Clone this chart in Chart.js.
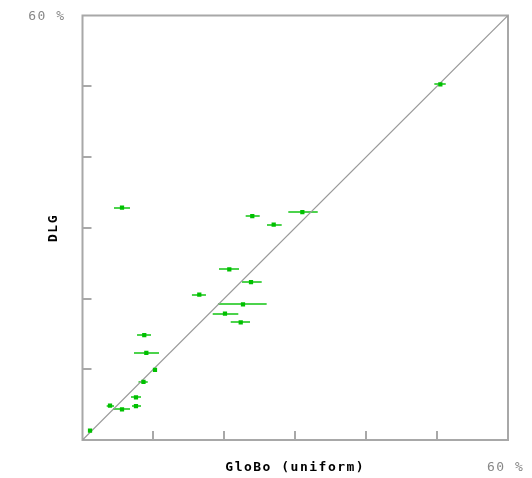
<!DOCTYPE html>
<html>
<head>
<meta charset="utf-8">
<script src="https://cdn.jsdelivr.net/npm/chart.js@4/dist/chart.umd.min.js"></script>
<style>
html,body{margin:0;padding:0;background:#fff;}
#wrap{width:532px;height:478px;position:relative;}
</style>
</head>
<body>
<div id="wrap"><canvas id="c" width="532" height="478"></canvas></div>
<script>
// Data (percent)
const xValues = [1.06, 3.88, 5.57, 7.54, 7.54, 8.6, 10.22, 9.0, 8.71, 16.47, 22.63, 20.09, 22.31, 23.76, 20.70, 23.94, 26.96, 31.0, 5.57, 50.46];
const yValues = [1.31, 4.85, 4.34, 6.03, 4.80, 8.2, 9.9, 12.3, 14.84, 20.54, 19.18, 17.85, 16.64, 22.33, 24.13, 31.66, 30.43, 32.22, 32.83, 50.27];
const xLow   = [0.9, 3.41, 4.30, 6.84, 6.98, 7.9, 10.0, 7.26, 7.69, 15.43, 19.10, 18.36, 20.90, 22.49, 19.25, 23.01, 26.02, 29.02, 4.44, 49.61];
const xHigh  = [1.2, 4.44, 6.70, 8.25, 8.25, 9.2, 10.4, 10.79, 9.66, 17.41, 25.97, 21.97, 23.62, 25.27, 22.07, 24.99, 28.09, 33.17, 6.70, 51.22];
const tickValues = [10, 20, 30, 40, 50];
const axisMin = 0, axisMax = 60;
const xTitle = 'GloBo (uniform)';
const yTitle = 'DLG';
const cornerLabel = '60 %';

const points = xValues.map((x, i) => ({x: x, y: yValues[i], lo: xLow[i], hi: xHigh[i]}));

const green = '#00c000';
const axisGray = '#a8a8a8';

const decor = {
  id: 'decor',
  beforeDatasetsDraw(chart) {
    const {ctx, chartArea: a, scales: {x, y}} = chart;
    ctx.save();
    // frame
    ctx.strokeStyle = axisGray;
    ctx.lineWidth = 2;
    ctx.strokeRect(a.left, a.top, a.right - a.left, a.bottom - a.top);
    // inside ticks
    ctx.lineWidth = 2;
    tickValues.forEach(v => {
      const px = Math.round(x.getPixelForValue(v)) ;
      ctx.beginPath(); ctx.moveTo(px, a.bottom); ctx.lineTo(px, a.bottom - 9); ctx.stroke();
      const py = Math.round(y.getPixelForValue(v));
      ctx.beginPath(); ctx.moveTo(a.left, py); ctx.lineTo(a.left + 9, py); ctx.stroke();
    });
    // error bars
    ctx.strokeStyle = green;
    ctx.globalAlpha = 0.7;
    ctx.lineWidth = 2;
    points.forEach(p => {
      const py = Math.round(y.getPixelForValue(p.y));
      ctx.beginPath();
      ctx.moveTo(x.getPixelForValue(p.lo), py);
      ctx.lineTo(x.getPixelForValue(p.hi), py);
      ctx.stroke();
    });
    ctx.globalAlpha = 1;
    // texts
    ctx.font = '13px "DejaVu Sans Mono"';
    ctx.letterSpacing = '1.5px';
    ctx.fillStyle = '#888888';
    ctx.textBaseline = 'middle';
    ctx.textAlign = 'right';
    ctx.fillText(cornerLabel, a.left - 17, y.getPixelForValue(axisMax) + 1);
    ctx.textAlign = 'left';
    ctx.fillText(cornerLabel, x.getPixelForValue(axisMax) - 21, 468);
    ctx.fillStyle = '#000000';
    ctx.font = 'bold 13px "DejaVu Sans Mono"';
    ctx.textAlign = 'center';
    ctx.fillText(xTitle, (a.left + a.right) / 2, 468);
    ctx.save();
    ctx.translate(54, 228);
    ctx.rotate(-Math.PI / 2);
    ctx.fillText(yTitle, 0, 0);
    ctx.restore();
    ctx.restore();
  }
};

new Chart(document.getElementById('c'), {
  type: 'scatter',
  data: {
    datasets: [
      {
        label: 'diag',
        data: [{x: axisMin, y: axisMin}, {x: axisMax, y: axisMax}],
        showLine: true,
        borderColor: '#9a9a9a',
        borderWidth: 1.2,
        pointRadius: 0,
        order: 2
      },
      {
        label: 'points',
        data: points,
        pointStyle: 'rect',
        pointRadius: 3,
        backgroundColor: green,
        borderColor: green,
        borderWidth: 0,
        order: 1
      }
    ]
  },
  plugins: [decor],
  options: {
    responsive: false,
    animation: false,
    devicePixelRatio: 1,
    layout: {padding: {left: 82.5, top: 15.5, right: 24, bottom: 38}},
    plugins: {legend: {display: false}, tooltip: {enabled: false}},
    scales: {
      x: {type: 'linear', min: axisMin, max: axisMax, display: false},
      y: {type: 'linear', min: axisMin, max: axisMax, display: false}
    }
  }
});
</script>
</body>
</html>
